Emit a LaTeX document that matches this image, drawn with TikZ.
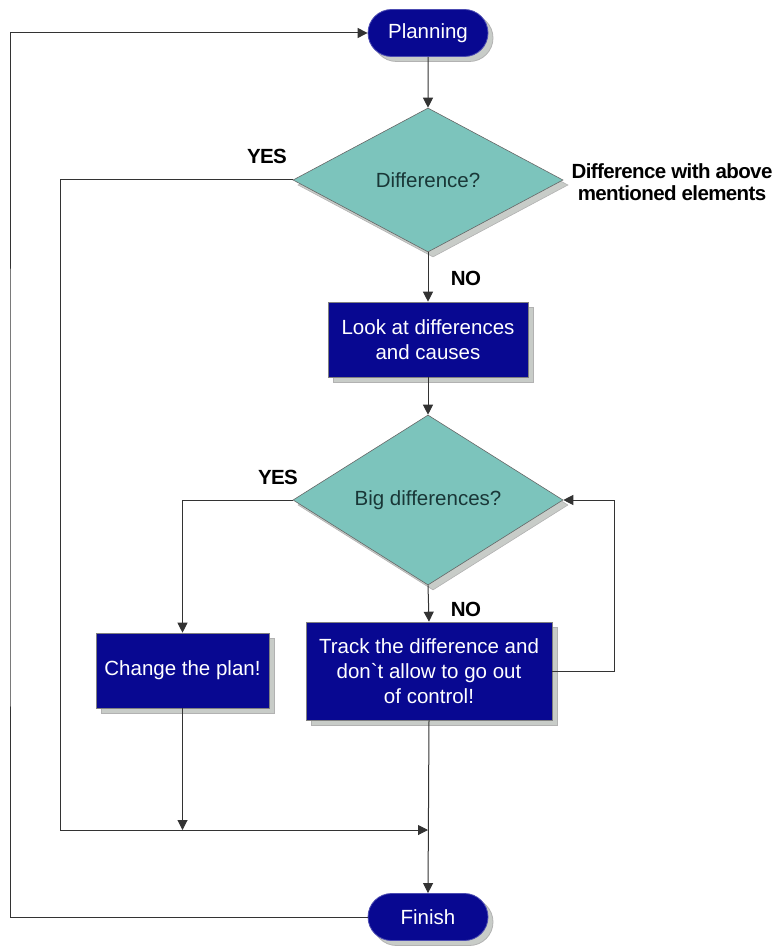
\documentclass[tikz,border=0pt]{standalone}
\usepackage{fontspec}
\setmainfont{Liberation Sans}
\newfontfamily\lblfont[LetterSpace=-3]{Liberation Sans}
\usetikzlibrary{shapes.geometric,shapes.misc,shadows,arrows.meta}
\definecolor{navy}{RGB}{8,8,145}
\definecolor{teal1}{RGB}{124,196,188}
\definecolor{dtext}{RGB}{25,55,55}
\definecolor{shad}{RGB}{200,204,200}
\begin{document}
\begin{tikzpicture}[x=1pt,y=-1pt,
  every node/.style={font=\fontsize{20.5}{25}\selectfont},
  sh/.style={drop shadow={shadow xshift=5pt,shadow yshift=-5pt,fill=shad,opacity=1,draw=gray!60}},
  term/.style={rounded rectangle,fill=navy,draw=gray!60!blue,line width=0.8pt,text=white,minimum width=120pt,minimum height=47pt,inner sep=0pt,sh},
  dec/.style={diamond,fill=teal1,draw=black!60,line width=0.6pt,text=dtext,inner sep=0pt,minimum width=270pt,sh},
  proc/.style={rectangle,fill=navy,draw=black!50,line width=0.6pt,text=white,align=center,inner sep=0pt,sh},
  lbl/.style={font=\lblfont\fontsize{20.5}{22}\selectfont\bfseries,text=black,inner sep=0pt,align=center},
  arr/.style={draw=black!80,line width=1pt,-{Triangle[length=10pt,width=10pt]}},
  ln/.style={draw=black!80,line width=1pt}]
\useasboundingbox (0,0) rectangle (780,949);
\node[term] (plan) at (428,33) {Planning};
\node[dec,minimum height=144pt] (d1) at (428,180) {Difference?};
\node[proc,minimum width=200pt,minimum height=75pt] (b1) at (428,339.5) {Look at differences\\and causes};
\node[dec,minimum height=170pt] (d2) at (428,500) {Big differences?};
\node[proc,minimum width=173pt,minimum height=75pt] (b2) at (182.5,670.5) {Change the plan!};
\node[proc,minimum width=246pt,minimum height=98pt] (b3) at (429,671) {Track the difference and\\don\textasciigrave t allow to go out\\of control!};
\node[term] (fin) at (428,917) {Finish};
\node[lbl] (ty1) at (267,156) {YES};
\node[lbl] (tn1) at (466,278) {NO};
\node[lbl] (ty2) at (278,477) {YES};
\node[lbl] (tn2) at (466,609) {NO};
\node[lbl] (tdiff) at (672,182) {Difference with above\\mentioned elements};
\coordinate (yl) at (60,830);
\coordinate (mj) at (428,830);
\coordinate (lx) at (10,500);
\coordinate (rx) at (614,600);
\draw[arr] (plan) -- (d1);
\draw[arr] (d1.south) -- (b1.north);
\draw[arr] (b1.south) -- (d2.north);
\draw[arr] (d2.south) -- (b3.north);
\draw[arr] (d2.west) -| (b2.north);
\draw[arr] (b3.east) -| (rx) |- (d2.east);
\draw[arr] (d1.west) -| (yl) -- (mj);
\draw[arr] (b2.south) -- (b2.south |- mj);
\draw[arr] (b3.south) -- (fin.north);
\draw[arr] (fin.west) -| (lx) |- (plan.west);
\end{tikzpicture}
\end{document}
